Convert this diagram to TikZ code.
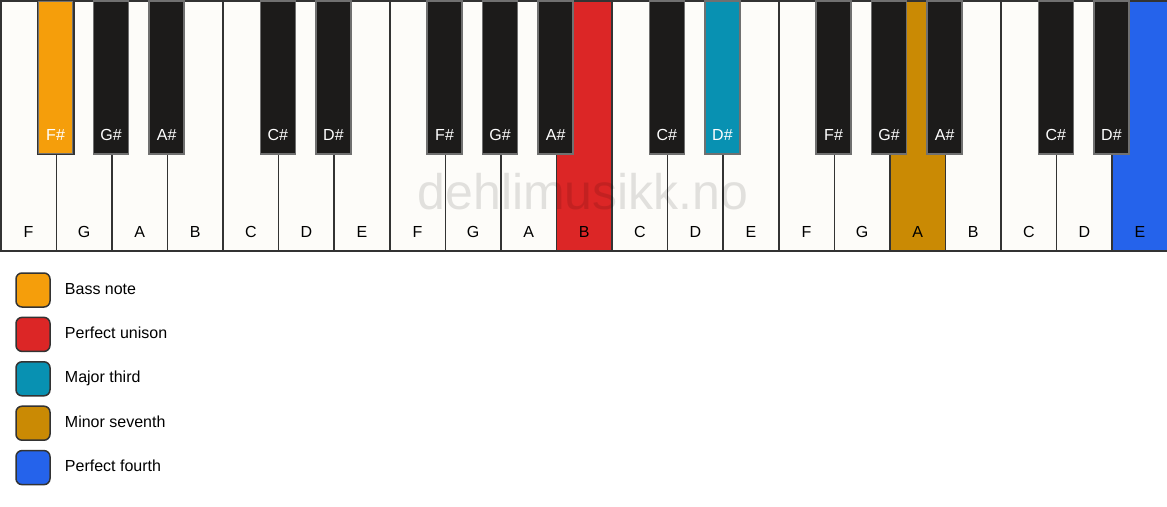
\documentclass[tikz,border=0pt]{standalone}
\usepackage{fontspec}
\setmainfont{Liberation Sans}
\usetikzlibrary{positioning}

\definecolor{keywhite}{HTML}{FDFCF9}
\definecolor{keyblack}{HTML}{1C1B1A}
\definecolor{keyline}{HTML}{333333}
\definecolor{bassnote}{HTML}{F59E0B}
\definecolor{unison}{HTML}{DC2626}
\definecolor{third}{HTML}{0891B2}
\definecolor{seventh}{HTML}{CA8A04}
\definecolor{fourth}{HTML}{2563EB}

\begin{document}
\begin{tikzpicture}[x=1pt,y=-1pt,
	whitekey/.style={rectangle,draw=keyline,line width=1.5pt,minimum width=55.57pt,minimum height=250pt,anchor=north west,inner sep=0pt},
	blackkey/.style={rectangle,draw=keyline!70,line width=1.5pt,minimum width=35pt,minimum height=153pt,anchor=north,inner sep=0pt},
	wtext/.style={font=\fontsize{16}{19}\selectfont,text=black,inner sep=0pt,text height=11.5pt,text depth=0pt},
	btext/.style={font=\fontsize{16}{19}\selectfont,text=white,inner sep=0pt,text height=11.5pt,text depth=0pt},
	legbox/.style={rectangle,rounded corners=6pt,draw=keyline,line width=1.5pt,minimum size=34pt,inner sep=0pt},
	legtext/.style={font=\fontsize{16}{19}\selectfont,inner sep=0pt,text height=11.5pt,text depth=3.5pt}]

	\useasboundingbox (0,0) rectangle (1167,506);

	% white keys
	\foreach \n/\c [count=\i from 0] in {F/keywhite,G/keywhite,A/keywhite,B/keywhite,C/keywhite,D/keywhite,E/keywhite,
		F/keywhite,G/keywhite,A/keywhite,B/unison,C/keywhite,D/keywhite,E/keywhite,
		F/keywhite,G/keywhite,A/seventh,B/keywhite,C/keywhite,D/keywhite,E/fourth}
	{
		\node[whitekey,fill=\c] (w\i) at (\i*55.571,0) {};
		\node[wtext] (wl\i) at ([yshift=20pt]w\i.south) {\n};
	}

	% black keys
	\foreach \n/\k/\c in {F\#/1/bassnote,G\#/2/keyblack,A\#/3/keyblack,C\#/5/keyblack,D\#/6/keyblack,
		F\#/8/keyblack,G\#/9/keyblack,A\#/10/keyblack,C\#/12/keyblack,D\#/13/third,
		F\#/15/keyblack,G\#/16/keyblack,A\#/17/keyblack,C\#/19/keyblack,D\#/20/keyblack}
	{
		\node[blackkey,fill=\c] (b\k) at (\k*55.571,0) {};
		\node[btext] (bl\k) at ([yshift=20pt]b\k.south) {\n};
	}
	\draw[keyline,line width=1.5pt] (b1.north west) rectangle (b1.south east);

	% watermark
	\node[font=\fontsize{50}{60}\selectfont,text=black,text opacity=0.11] (mark) at (583,192) {dehlimusikk.no};

	% legend
	\foreach \t/\c [count=\k from 0] in {Bass note/bassnote,Perfect unison/unison,Major third/third,Minor seventh/seventh,Perfect fourth/fourth}
	{
		\node[legbox,fill=\c] (leg\k) at (33,290+44.4*\k) {};
		\node[legtext,right=14pt of leg\k] (legl\k) {\t};
	}

\end{tikzpicture}
\end{document}
